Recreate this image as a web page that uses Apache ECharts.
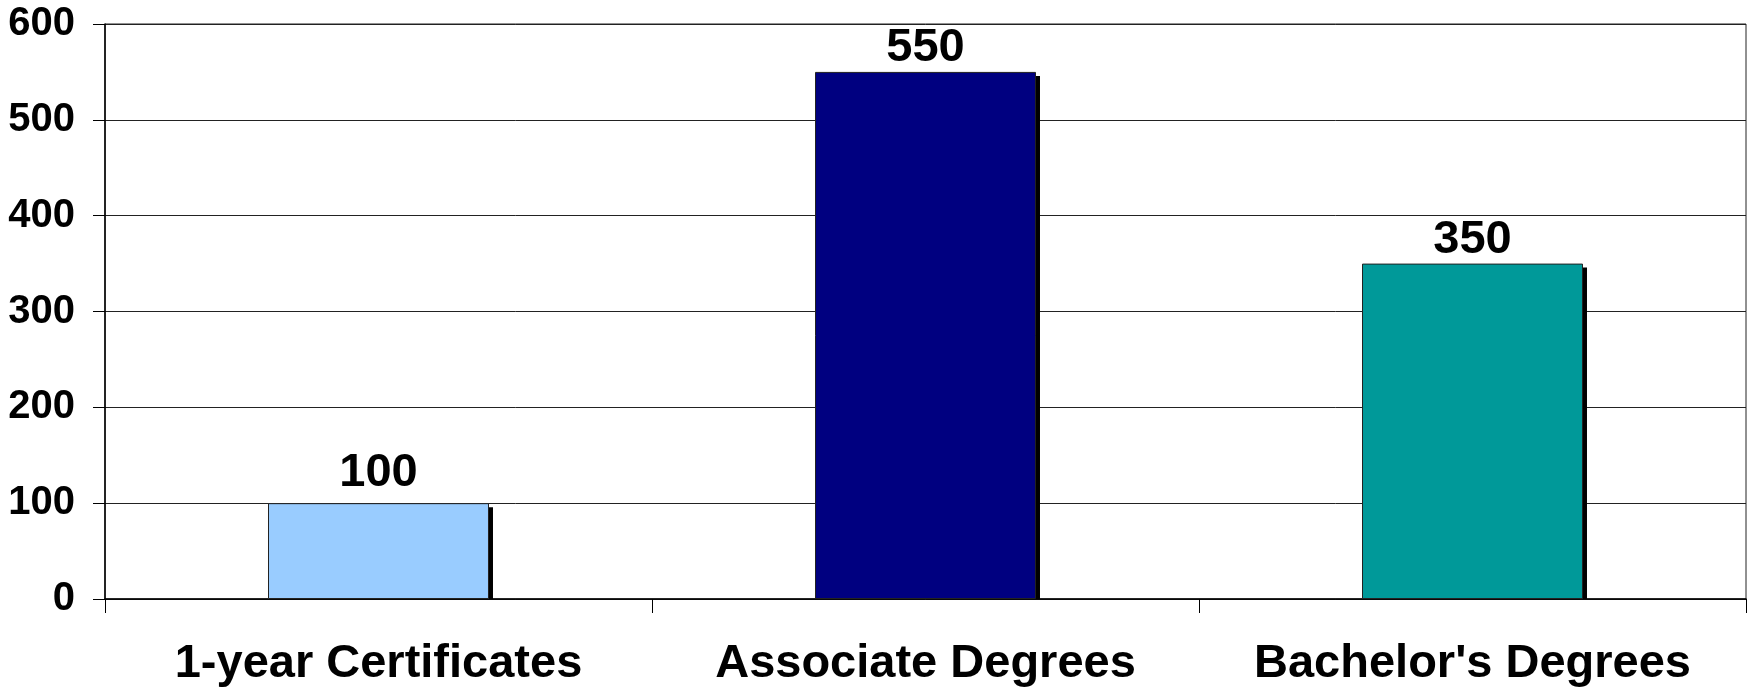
<!DOCTYPE html>
<html>
<head>
<meta charset="utf-8">
<script src="https://cdn.jsdelivr.net/npm/echarts@6/dist/echarts.min.js"></script>
<style>
html,body{margin:0;padding:0;background:#fff;}
#chart{width:1748px;height:689px;}
</style>
</head>
<body>
<div id="chart"></div>
<script>
const categories = ["1-year Certificates", "Associate Degrees", "Bachelor's Degrees"];
const values = [100, 550, 350];
const barColors = ["#99CCFF", "#000080", "#009999"];
const yTicks = [0, 100, 200, 300, 400, 500, 600];

const FONT = '"Liberation Sans", Arial, Helvetica, sans-serif';
const BAR_RATIO = 0.404;
const labelGaps = [7, 0, 0];
const chart = echarts.init(document.getElementById('chart'));
chart.setOption({
  animation: false,
  backgroundColor: '#ffffff',
  grid: {
    left: 105, right: 2, top: 24, bottom: 90,
    outerBoundsMode: 'none',
    containLabel: false,
    show: true, borderColor: '#222', borderWidth: 1, backgroundColor: 'transparent'
  },
  xAxis: {
    type: 'category',
    data: categories,
    boundaryGap: true,
    axisLine: { show: true, lineStyle: { color: '#000', width: 1.5 } },
    axisTick: { show: true, alignWithLabel: false, length: 14, lineStyle: { color: '#000', width: 1 } },
    axisLabel: { color: '#000', fontSize: 47, fontWeight: 'bold', fontFamily: FONT, margin: 42, interval: 0 },
    splitLine: { show: false }
  },
  yAxis: {
    type: 'value',
    min: yTicks[0],
    max: yTicks[yTicks.length - 1],
    interval: 100,
    axisLine: { show: true, lineStyle: { color: '#000', width: 1.5 } },
    axisTick: { show: true, length: 12, lineStyle: { color: '#000', width: 1 } },
    axisLabel: { color: '#000', fontSize: 40, fontWeight: 'bold', fontFamily: FONT, margin: 30 },
    splitLine: { show: true, lineStyle: { color: '#222', width: 1 } }
  },
  series: [{
    type: 'custom',
    silent: true,
    z: 1,
    data: values.map((v, i) => [i, v]),
    renderItem: function (params, api) {
      const top = api.coord([api.value(0), api.value(1)]);
      const base = api.coord([api.value(0), 0]);
      const w = api.size([1, 0])[0] * BAR_RATIO;
      return {
        type: 'rect',
        shape: { x: top[0] - w / 2 + 4, y: top[1] + 4, width: w, height: base[1] - top[1] - 4 },
        style: { fill: '#000' }
      };
    }
  }, {
    type: 'bar',
    barWidth: (BAR_RATIO * 100) + '%',
    data: values.map((v, i) => ({
      value: v,
      itemStyle: { color: barColors[i] },
      label: { distance: labelGaps[i] }
    })),
    itemStyle: {
      borderColor: '#222',
      borderWidth: 1
    },
    label: {
      show: true,
      position: 'top',
      color: '#000',
      fontSize: 47,
      fontWeight: 'bold',
      fontFamily: FONT
    },
    z: 2
  }]
});
</script>
</body>
</html>
